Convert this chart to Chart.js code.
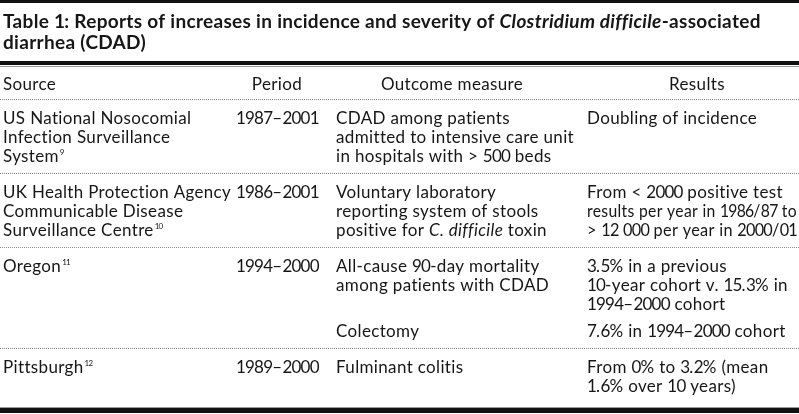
<!DOCTYPE html>
<html>
<head>
<meta charset="utf-8">
<script src="https://cdn.jsdelivr.net/npm/chart.js@4.4.0/dist/chart.umd.min.js"></script>
<style>
  html, body { margin: 0; padding: 0; background: #fff; }
  #contenedor { width: 799px; height: 414px; }
</style>
</head>
<body>
<div id="contenedor"><canvas id="tabla"></canvas></div>
<script>
// Contenido de la tabla (_texto_ = cursiva)
const titulo = [
  "Table 1: Reports of increases in incidence and severity of _Clostridium difficile_-associated",
  "diarrhea (CDAD)",
];
const encabezados = ["Source", "Period", "Outcome measure", "Results"];
const fuentes = [
  ["US National Nosocomial", "Infection Surveillance", "System"],
  ["UK Health Protection Agency", "Communicable Disease", "Surveillance Centre"],
  ["Oregon"],
  ["Pittsburgh"],
];
const referencias = ["9", "10", "11", "12"];
const periodos = ["1987–2001", "1986–2001", "1994–2000", "1989–2000"];
const medidas = [
  [["CDAD among patients", "admitted to intensive care unit", "in hospitals with > 500 beds"]],
  [["Voluntary laboratory", "reporting system of stools", "positive for _C. difficile_ toxin"]],
  [["All-cause 90-day mortality", "among patients with CDAD"], ["Colectomy"]],
  [["Fulminant colitis"]],
];
const resultados = [
  [["Doubling of incidence"]],
  [["From < 2000 positive test", "results per year in 1986/87 to", "> 12 000 per year in 2000/01"]],
  [["3.5% in a previous", "10-year cohort v. 15.3% in", "1994–2000 cohort"], ["7.6% in 1994–2000 cohort"]],
  [["From 0% to 3.2% (mean", "1.6% over 10 years)"]],
];

// Layout
const ANCHO = 799, ALTO = 414;
const tinta = "#161616";
const familia = '"Lato", "Open Sans", sans-serif';
const tamTexto = 17;
const tamTitulo = 19;
const interlinea = 19;
const columnasX = [3, 236, 336, 587];
const centrosEncabezado = [null, 277, 452, 697];

// escribe una línea por tramos: cursivas y cifras (las cifras más juntas)
function escribir(ctx, texto, x, y, tam, peso, espacio, medir) {
  const x0 = x;
  texto.split("_").forEach((p, i) => {
    ctx.font = `${i % 2 ? "italic " : ""}${peso} ${tam}px ${familia}`;
    p.split(/([0-9]+)/).forEach((trozo, j) => {
      if (!trozo) return;
      ctx.letterSpacing = j % 2 ? "-0.8px" : espacio + "px";
      if (!medir) ctx.fillText(trozo, x, y);
      x += ctx.measureText(trozo).width;
    });
  });
  ctx.letterSpacing = "0px";
  return x - x0;
}

function escribirAjustado(ctx, texto, x, y, maximo) {
  const w = escribir(ctx, texto, 0, 0, tamTexto, "normal", 0.35, true);
  if (w <= maximo) return x + escribir(ctx, texto, x, y, tamTexto, "normal", 0.35);
  ctx.save();
  ctx.translate(x, y);
  ctx.scale(maximo / w, 1);
  escribir(ctx, texto, 0, 0, tamTexto, "normal", 0.35);
  ctx.restore();
  return x + maximo;
}

const pluginTabla = {
  id: "tablaTexto",
  afterDraw(chart) {
    const ctx = chart.ctx;
    const px = (v) => chart.scales.x.getPixelForValue(v);
    const py = (v) => chart.scales.y.getPixelForValue(v);
    const ancho = px(ANCHO) - px(0);

    const lineaGruesa = (y0, alto) => {
      ctx.fillStyle = "#111";
      ctx.fillRect(px(0), py(y0), ancho, alto);
    };
    const lineaPunteada = (y0) => {
      ctx.save();
      ctx.strokeStyle = "#8a8a8a";
      ctx.lineWidth = 1;
      ctx.setLineDash([1, 1]);
      ctx.beginPath();
      ctx.moveTo(px(0), py(y0));
      ctx.lineTo(px(ANCHO), py(y0));
      ctx.stroke();
      ctx.restore();
    };

    ctx.save();
    ctx.textBaseline = "alphabetic";
    ctx.textAlign = "left";

    // Filetes superiores
    lineaGruesa(0, 3);
    lineaGruesa(61, 4);
    ctx.fillStyle = "#9a9a9a";
    ctx.fillRect(px(0), py(66), ancho, 1);

    // Título
    ctx.fillStyle = tinta;
    titulo.forEach((t, i) => escribir(ctx, t, px(3), py(28 + i * 21), tamTitulo, "bold", 0.3));

    // Encabezados
    encabezados.forEach((h, i) => {
      const w = escribir(ctx, h, 0, 0, tamTexto, "normal", 0.35, true);
      const x = centrosEncabezado[i] === null ? px(columnasX[i]) : px(centrosEncabezado[i]) - w / 2;
      escribir(ctx, h, x, py(90), tamTexto, "normal", 0.35);
    });
    lineaPunteada(99.5);

    // Filas
    let base = 124;
    fuentes.forEach((lineas, f) => {
      const inicio = base;
      lineas.forEach((l, k) => {
        const fin = escribirAjustado(ctx, l, px(columnasX[0]), py(inicio + k * interlinea), 228);
        if (k === lineas.length - 1) {
          escribir(ctx, referencias[f], fin + 1, py(inicio + k * interlinea - 7), 8, "normal", 0);
        }
      });
      escribirAjustado(ctx, periodos[f], px(columnasX[1]), py(inicio), 95);

      // sub-filas de medida y resultado
      let y0 = inicio;
      let ultima = inicio;
      medidas[f].forEach((sub, s) => {
        const res = resultados[f][s];
        sub.forEach((l, k) => escribirAjustado(ctx, l, px(columnasX[2]), py(y0 + k * interlinea), 240));
        res.forEach((l, k) => escribirAjustado(ctx, l, px(columnasX[3]), py(y0 + k * interlinea), ANCHO - columnasX[3] - 2));
        const n = Math.max(sub.length, res.length, s === 0 ? lineas.length : 0);
        ultima = y0 + (n - 1) * interlinea;
        y0 = ultima + interlinea + 8;
      });
      if (f < fuentes.length - 1) {
        lineaPunteada(ultima + 11.5);
        base = ultima + 36;
      }
    });

    // Filete inferior
    ctx.fillStyle = "#9a9a9a";
    ctx.fillRect(px(0), py(407), ancho, 1);
    lineaGruesa(408, 5);
    ctx.restore();
  },
};

new Chart(document.getElementById("tabla"), {
  type: "scatter",
  data: { datasets: [{ data: [] }] },
  options: {
    responsive: true,
    maintainAspectRatio: false,
    animation: false,
    layout: { padding: 0 },
    plugins: { legend: { display: false }, tooltip: { enabled: false } },
    scales: {
      x: { type: "linear", min: 0, max: ANCHO, display: false },
      y: { type: "linear", min: 0, max: ALTO, reverse: true, display: false },
    },
  },
  plugins: [pluginTabla],
});
</script>
</body>
</html>
